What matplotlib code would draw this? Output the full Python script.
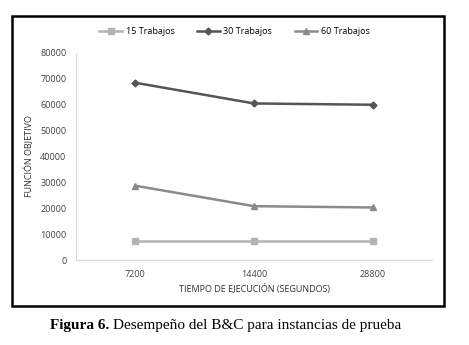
import matplotlib.pyplot as plt
from matplotlib.patches import Rectangle

# datos
tiempos = ['7200', '14400', '28800']
trabajos_15 = [7300, 7300, 7300]
trabajos_30 = [68500, 60500, 60000]
trabajos_60 = [28700, 20800, 20300]

W, H = 469, 345
fig = plt.figure(figsize=(W / 100, H / 100), dpi=100)
plt.rcParams['font.family'] = ['Open Sans', 'DejaVu Sans']

ax = fig.add_axes([76 / W, 1 - 260 / H, 356 / W, 207 / H])
x = range(len(tiempos))
ax.plot(x, trabajos_15, color='#b3b3b3', lw=1.8, marker='s', ms=4.5, label='15 Trabajos')
ax.plot(x, trabajos_30, color='#555555', lw=1.8, marker='D', ms=3.5, label='30 Trabajos')
ax.plot(x, trabajos_60, color='#8a8a8a', lw=1.8, marker='^', ms=5, label='60 Trabajos')

ax.set_xlim(-0.5, 2.5)
ax.set_ylim(0, 80000)
ax.set_yticks(range(0, 80001, 10000))
ax.set_xticks(list(x))
ax.set_xticklabels(tiempos)
for s in ['top', 'right']:
    ax.spines[s].set_visible(False)
ax.spines['left'].set_color('#d9d9d9')
ax.spines['bottom'].set_color('#d9d9d9')
ax.tick_params(length=0, labelsize=6.5, colors='#404040', pad=7)
ax.set_xlabel('TIEMPO DE EJECUCIÓN (SEGUNDOS)', fontsize=6.5, color='#303030', labelpad=4)
ax.set_ylabel('FUNCIÓN OBJETIVO', fontsize=6.5, color='#303030', labelpad=5)

fig.legend(loc='center', bbox_to_anchor=(0.5, 1 - 32 / H), ncol=3, frameon=False,
           fontsize=6.5, handlelength=2.5, columnspacing=2.5, handletextpad=0.4)

# marco exterior
fig.patches.append(Rectangle((12 / W, 1 - 306 / H), 432 / W, 290 / H, transform=fig.transFigure,
                             fill=False, ec='black', lw=1.8))

# pie de figura
t = fig.text(50 / W, 1 - 326 / H, 'Figura 6.', family='Liberation Serif', weight='bold',
             fontsize=11, va='center')
ax.annotate('Desempeño del B&C para instancias de prueba', xy=(1, 0.5), xycoords=t,
            xytext=(3, 0), textcoords='offset points', va='center', ha='left',
            family='Liberation Serif', fontsize=11, annotation_clip=False)

fig.savefig('out.png', dpi=100)
